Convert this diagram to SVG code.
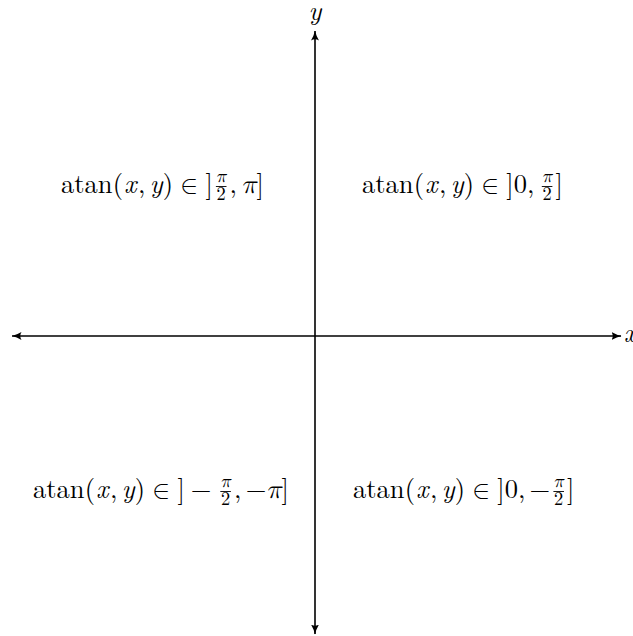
<svg xmlns="http://www.w3.org/2000/svg" width="633" height="636" viewBox="0 0 633 636">
<style>
text{font-family:"Latin Modern Roman","Latin Modern Math","Liberation Serif","DejaVu Serif",serif;fill:#000;text-anchor:middle}
.m{font-size:26.5px}
.s{text-anchor:start}
.f{font-size:18.4px}
.i{font-style:italic}
.ax{stroke:#000;stroke-width:1.6;fill:none}
.bar{stroke:#000;stroke-width:0.9}
</style>
<defs>
<marker id="ah" viewBox="0 0 10 10" refX="9.5" refY="5" markerWidth="10" markerHeight="10" orient="auto-start-reverse" markerUnits="userSpaceOnUse">
<path d="M0,1 Q5,4 10,5 Q5,6 0,9 Q2.5,5 0,1 Z" fill="#000"/>
</marker>
</defs>
<rect width="633" height="636" fill="#fff"/>
<g id="connectors">
<line class="ax" x1="12" y1="336" x2="621" y2="336" marker-start="url(#ah)" marker-end="url(#ah)"/>
<line class="ax" x1="315" y1="634" x2="315" y2="31" marker-start="url(#ah)" marker-end="url(#ah)"/>
</g>
<g id="axis-labels">
<text class="m i" x="315" y="20">y</text>
<text class="m i s" x="624" y="342">x</text>
</g>
<g id="q2">
<text class="m s" x="61" y="193">atan</text>
<text class="m" x="117.8" y="193">(</text>
<text class="m i" x="130.4" y="193">x</text>
<text class="m" x="141.7" y="193">,</text>
<text class="m i" x="156.3" y="193">y</text>
<text class="m" x="167.9" y="193">)</text>
<text class="m" x="189.2" y="193">∈</text>
<text class="m" x="209.1" y="193">]</text>
<text class="f i" x="221.2" y="181.5">π</text>
<line class="bar" x1="215.9" y1="186.5" x2="226.5" y2="186.5"/>
<text class="f" x="221.2" y="199.8">2</text>
<text class="m" x="233.3" y="193">,</text>
<text class="m i" x="249" y="193">π</text>
<text class="m" x="260.3" y="193">]</text>
</g>
<g id="q1">
<text class="m s" x="362" y="193">atan</text>
<text class="m" x="418.8" y="193">(</text>
<text class="m i" x="431.4" y="193">x</text>
<text class="m" x="442.7" y="193">,</text>
<text class="m i" x="457.3" y="193">y</text>
<text class="m" x="468.9" y="193">)</text>
<text class="m" x="490.2" y="193">∈</text>
<text class="m" x="510" y="193">]</text>
<text class="m" x="520.3" y="193">0</text>
<text class="m" x="530.6" y="193">,</text>
<text class="f i" x="547.1" y="181.5">π</text>
<line class="bar" x1="541.8" y1="186.5" x2="552.4" y2="186.5"/>
<text class="f" x="547.1" y="199.8">2</text>
<text class="m" x="559.2" y="193">]</text>
</g>
<g id="q3">
<text class="m s" x="33" y="498">atan</text>
<text class="m" x="89.8" y="498">(</text>
<text class="m i" x="102.4" y="498">x</text>
<text class="m" x="113.7" y="498">,</text>
<text class="m i" x="128.3" y="498">y</text>
<text class="m" x="139.9" y="498">)</text>
<text class="m" x="161.2" y="498">∈</text>
<text class="m" x="181.1" y="498">]</text>
<text class="m" x="201" y="498">−</text>
<text class="f i" x="225.6" y="486.5">π</text>
<line class="bar" x1="220.3" y1="491.5" x2="230.9" y2="491.5"/>
<text class="f" x="225.6" y="504.8">2</text>
<text class="m" x="237.8" y="498">,</text>
<text class="m" x="256.1" y="498">−</text>
<text class="m i" x="273.9" y="498">π</text>
<text class="m" x="285.2" y="498">]</text>
</g>
<g id="q4">
<text class="m s" x="353" y="498">atan</text>
<text class="m" x="409.8" y="498">(</text>
<text class="m i" x="422.4" y="498">x</text>
<text class="m" x="433.7" y="498">,</text>
<text class="m i" x="448.3" y="498">y</text>
<text class="m" x="459.9" y="498">)</text>
<text class="m" x="481.2" y="498">∈</text>
<text class="m" x="501" y="498">]</text>
<text class="m" x="511.3" y="498">0</text>
<text class="m" x="521.6" y="498">,</text>
<text class="m" x="539.9" y="498">−</text>
<text class="f i" x="558.7" y="486.5">π</text>
<line class="bar" x1="553.4" y1="491.5" x2="564" y2="491.5"/>
<text class="f" x="558.7" y="504.8">2</text>
<text class="m" x="570.8" y="498">]</text>
</g>
</svg>
